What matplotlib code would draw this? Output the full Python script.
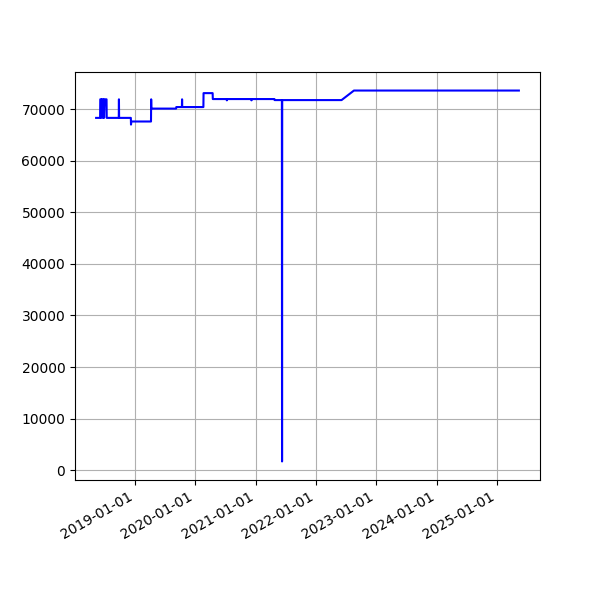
import pandas as pd
import matplotlib
matplotlib.use("Agg")
import matplotlib.pyplot as plt
import matplotlib.dates as mdates

# -----------------------------------------
# DATA
# -----------------------------------------

dates = [
    "2018-05-12", "2018-06-05", "2018-06-06", "2018-06-11", "2018-06-12",
    "2018-06-15", "2018-06-21", "2018-06-22", "2018-06-26", "2018-06-29",
    "2018-07-03", "2018-07-14", "2018-07-15", "2018-09-26", "2018-09-27",
    "2018-09-28", "2018-12-08", "2018-12-09", "2018-12-11", "2019-04-09",
    "2019-04-10", "2019-04-11", "2019-09-08", "2019-09-09", "2019-10-13",
    "2019-10-14", "2019-10-15", "2020-02-20", "2020-02-21", "2020-04-16",
    "2020-04-17", "2020-07-10", "2020-07-11", "2020-07-12", "2020-12-06",
    "2020-12-07", "2020-12-08", "2021-04-25", "2021-04-26", "2021-06-09",
    "2021-06-10", "2021-06-11", "2022-06-05", "2022-08-19", "2025-05-13",
]

values = [
    68300, 68300, 71900, 71900, 68300,
    71900, 71900, 68300, 71900, 68300,
    71900, 71900, 68300, 68300, 71900,
    68300, 68300, 67000, 67600, 67600,
    71900, 70100, 70100, 70400, 70400,
    71900, 70400, 70400, 73100, 73100,
    71950, 71950, 71700, 71950, 71950,
    71700, 71950, 71950, 71750, 71750,
    1700, 71750, 71750, 73600, 73600,
]

df = pd.DataFrame({"date": pd.to_datetime(dates), "value": values})

# -----------------------------------------
# PLOT
# -----------------------------------------

fig, ax = plt.subplots(figsize=(6, 6), dpi=100)

ax.plot(df["date"], df["value"], color="blue")
ax.grid(True)

ax.xaxis.set_major_locator(mdates.YearLocator())
ax.xaxis.set_major_formatter(mdates.DateFormatter("%Y-%m-%d"))
fig.autofmt_xdate()

plt.savefig("out.png")
